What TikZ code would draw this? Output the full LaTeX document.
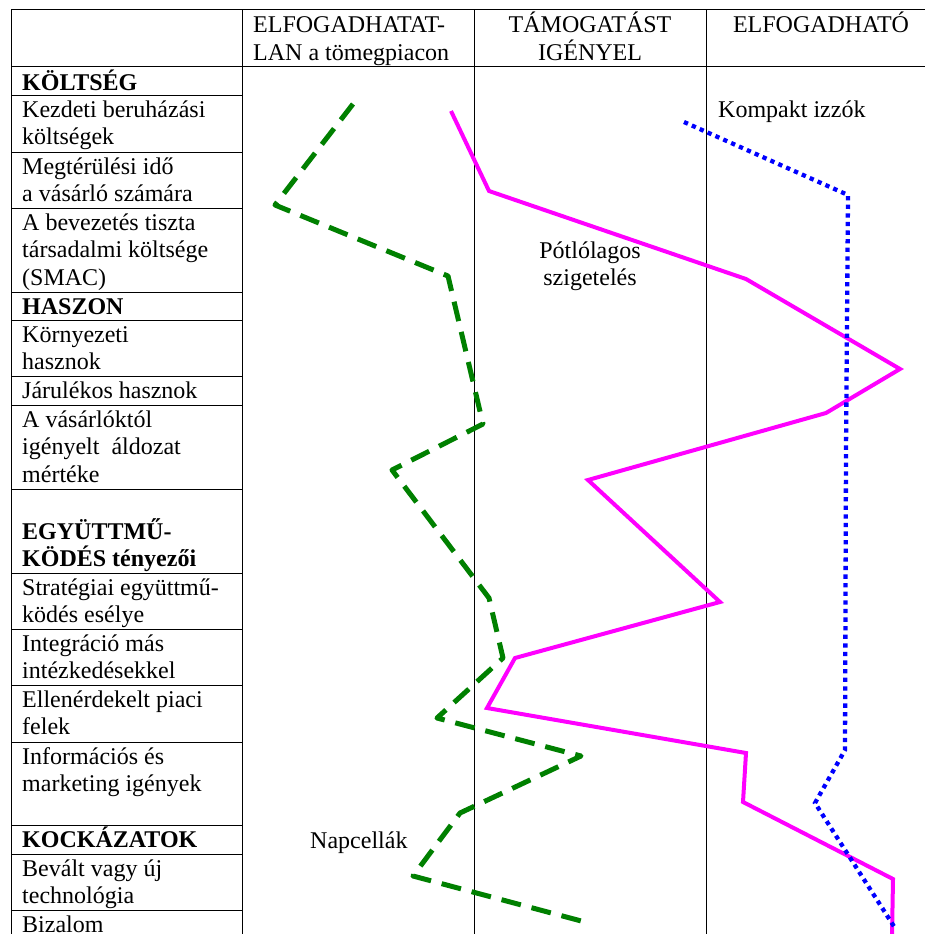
\documentclass[tikz,border=0pt]{standalone}
\usepackage{fontspec}
\setmainfont{Liberation Serif}
\newcommand\cellfont{\fontsize{24}{27.6}\selectfont}
\definecolor{napgreen}{RGB}{0,128,0}
\definecolor{szigmag}{RGB}{255,0,255}
\definecolor{izzoblue}{RGB}{0,0,255}
\begin{document}
\begin{tikzpicture}[x=1pt,y=-1pt,
  gridline/.style={black,line width=1pt},
  rowlbl/.style={anchor=base west,inner sep=0pt,align=left,font=\cellfont},
  headc/.style={anchor=base,inner sep=0pt,align=center,font=\cellfont},
  curvelbl/.style={anchor=base,inner sep=0pt,align=center,font=\cellfont},
  napline/.style={napgreen,line width=5pt,dash pattern=on 20pt off 11pt,line join=round},
  szigline/.style={szigmag,line width=4pt,line join=miter},
  izzoline/.style={izzoblue,line width=4.3pt,dash pattern=on 4.3pt off 4.3pt}]
\useasboundingbox (0,0) rectangle (925,934);
% table frame
\draw[gridline] (11,10) -- (925,10);
\draw[gridline] (11,67) -- (925,67);
\foreach \xx in {11,242,474,706} \draw[gridline] (\xx,10) -- (\xx,934);
\foreach \yy in {95,152,208,292,320,376,405,489,573,629,685,742,825,854,910}
  \draw[gridline] (11,\yy) -- (242,\yy);
% headers (anchor = baseline of the last line)
\node[rowlbl] (h1) at (253,60.6) {ELFOGADHATAT-\\LAN a tömegpiacon};
\node[headc] (h2) at (590,60.6) {TÁMOGATÁST\\IGÉNYEL};
\node[headc] (h3) at (821,33) {ELFOGADHATÓ};
% row labels (anchor = baseline of the last line)
\node[rowlbl] (r1) at (22,90) {\textbf{KÖLTSÉG}};
\node[rowlbl] (r2) at (22,144.6) {Kezdeti beruházási\\költségek};
\node[rowlbl] (r3) at (22,201.6) {Megtérülési idő\\a vásárló számára};
\node[rowlbl] (r4) at (22,285.2) {A bevezetés tiszta\\társadalmi költsége\\(SMAC)};
\node[rowlbl] (r5) at (22,314) {\textbf{HASZON}};
\node[rowlbl] (r6) at (22,369.6) {Környezeti\\hasznok};
\node[rowlbl] (r7) at (22,398) {Járulékos hasznok};
\node[rowlbl] (r8) at (22,482.2) {A vásárlóktól\\igényelt\ \ áldozat\\mértéke};
\node[rowlbl] (r9) at (22,566.6) {\textbf{EGYÜTTMŰ-}\\\textbf{KÖDÉS tényezői}};
\node[rowlbl] (r10) at (22,622.6) {Stratégiai együttmű-\\ködés esélye};
\node[rowlbl] (r11) at (22,678.6) {Integráció más\\intézkedésekkel};
\node[rowlbl] (r12) at (22,734.6) {Ellenérdekelt piaci\\felek};
\node[rowlbl] (r13) at (22,791.6) {Információs és\\marketing igények};
\node[rowlbl] (r14) at (22,847) {\textbf{KOCKÁZATOK}};
\node[rowlbl] (r15) at (22,903.6) {Bevált vagy új\\technológia};
\node[rowlbl] (r16) at (22,932) {Bizalom};
% curve labels
\node[rowlbl] (lizzo) at (718,117) {Kompakt izzók};
\node[curvelbl] (lszig) at (590,285.6) {Pótlólagos\\szigetelés};
\node[rowlbl] (lnap) at (310,848) {Napcellák};
% curves
\draw[napline] (353,104) -- (275,205) -- (448,276) -- (483,424) -- (392,470)
  -- (489,598) -- (503,658) -- (437,718) -- (581,756) -- (460,813)
  -- (413,876) -- (585,922);
\draw[szigline] (451,111) -- (489,191) -- (746,279) -- (900,369) -- (826,413)
  -- (588,480) -- (720,602) -- (515,658) -- (487,708) -- (746,753)
  -- (743,802) -- (893,879) -- (892,936);
\draw[izzoline] (684,122) -- (848,195) -- (846,450) -- (845,750) -- (815,803)
  -- (895,928);
\end{tikzpicture}
\end{document}
